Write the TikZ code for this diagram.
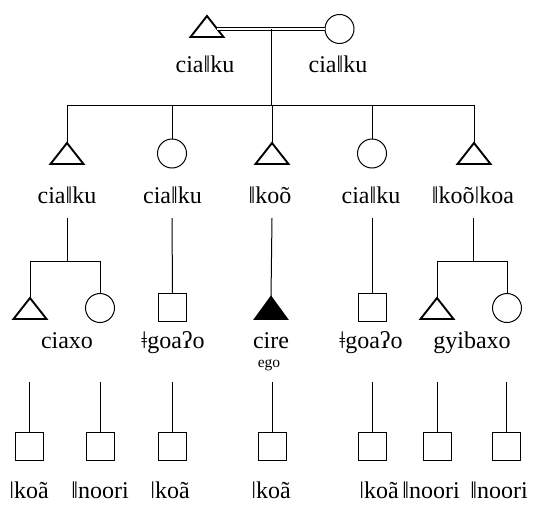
\documentclass[tikz,border=0pt]{standalone}
\usepackage{fontspec}
\setmainfont{Liberation Serif}
\usetikzlibrary{shapes.geometric}
\begin{document}
\begin{tikzpicture}[x=1pt,y=-1pt,
 ln/.style={line width=1pt},
 male/.style={draw, line width=1.9pt, isosceles triangle, isosceles triangle stretches, shape border rotate=90, minimum width=33pt, minimum height=21pt, inner sep=0pt, outer sep=0pt, anchor=apex},
 egotri/.style={male, fill=black},
 female/.style={draw, line width=1pt, circle, minimum size=29pt, inner sep=0pt, outer sep=0pt},
 unk/.style={draw, line width=1pt, rectangle, minimum size=28pt, inner sep=0pt, outer sep=0pt},
 lab/.style={font=\fontsize{24}{27}\selectfont, anchor=base, inner sep=0pt},
 small/.style={font=\fontsize{15.5}{17}\selectfont, anchor=base, inner sep=0pt}]
\useasboundingbox (0,0) rectangle (540,506);
% generation 1
\node[male] (F1) at (207,16) {};
\coordinate (mx) at (339.5,0);
\coordinate (sx) at (271,0);
\node[female] (M1) at (F1.center -| mx) {};
\coordinate (mar) at (F1.center -| sx);
\coordinate (sib) at (271,105);
\draw[line width=0.8pt, double, double distance=2pt] (F1) -- (M1);
\draw[ln] (mar) -- (sib);
\node[lab] (L1a) at (205,72) {ciaǁku};
\node[lab] (L1b) at (338,72) {ciaǁku};
% generation 2
\node[male] (A2) at (67,143) {};
\node[female] (B2) at (172,153.5) {};
\node[male] (C2) at (272,143) {};
\node[female] (D2) at (372,153.5) {};
\node[male] (E2) at (474,143) {};
\draw[ln] (A2.apex) |- (E2.apex |- sib) -- (E2.apex);
\draw[ln] (B2.north) -- (B2 |- sib);
\draw[ln] (C2.apex) -- (C2.apex |- sib);
\draw[ln] (D2.north) -- (D2 |- sib);
\node[lab] (L2a) at (67,203) {ciaǁku};
\node[lab] (L2b) at (172.5,203) {ciaǁku};
\node[lab] (L2c) at (270,203) {ǁkoõ};
\node[lab] (L2d) at (371,203) {ciaǁku};
\node[lab] (L2e) at (473,203) {ǁkoõǀkoa};
\coordinate (A2d) at (67,218);
\coordinate (B2d) at (172,218);
\coordinate (C2d) at (272,218);
\coordinate (D2d) at (372,218);
\coordinate (E2d) at (473,218);
% generation 3
\coordinate (Aj) at (67,261);
\coordinate (Ej) at (473,261);
\node[male] (A3) at (30,298) {};
\node[female] (B3) at (100,308) {};
\node[unk] (C3) at (172.5,307) {};
\node[egotri, minimum width=32pt, minimum height=22pt] (D3) at (271,297) {};
\node[unk] (E3) at (372,307) {};
\node[male] (F3) at (437,298) {};
\node[female] (G3) at (507,308) {};
\draw[ln] (A2d) -- (Aj);
\draw[ln] (A3.apex) |- (B3 |- Aj) -- (B3.north);
\draw[ln] (B2d) -- (C3.north);
\draw[ln] (C2d) -- (D3.apex);
\draw[ln] (D2d) -- (E3.north);
\draw[ln] (E2d) -- (Ej);
\draw[ln] (F3.apex) |- (G3 |- Ej) -- (G3.north);
\node[lab] (L3a) at (67,348) {ciaxo};
\node[lab] (L3b) at (173,348) {ǂgoaʔo};
\node[lab] (L3c) at (271,348) {cire};
\node[small] (L3e) at (269,367) {ego};
\node[lab] (L3d) at (371,348) {ǂgoaʔo};
\node[lab] (L3f) at (472,348) {gyibaxo};
% generation 4
\node[unk] (S1) at (29,446) {};
\node[unk] (S2) at (100,446) {};
\node[unk] (S3) at (172,446) {};
\node[unk] (S4) at (272,446) {};
\node[unk] (S5) at (372,446) {};
\node[unk] (S6) at (437,446) {};
\node[unk] (S7) at (506.5,446) {};
\foreach \s in {S1,S2,S3,S4,S5,S6,S7}{
  \draw[ln] (\s.north) -- ++(0,-50);
}
\node[lab] (L4a) at (29,498) {ǀkoã};
\node[lab] (L4b) at (100,498) {ǁnoori};
\node[lab] (L4c) at (170,498) {ǀkoã};
\node[lab] (L4d) at (271,498) {ǀkoã};
\node[lab] (L4e) at (379,498) {ǀkoã};
\node[lab] (L4f) at (431,498) {ǁnoori};
\node[lab] (L4g) at (499,498) {ǁnoori};
\end{tikzpicture}
\end{document}
